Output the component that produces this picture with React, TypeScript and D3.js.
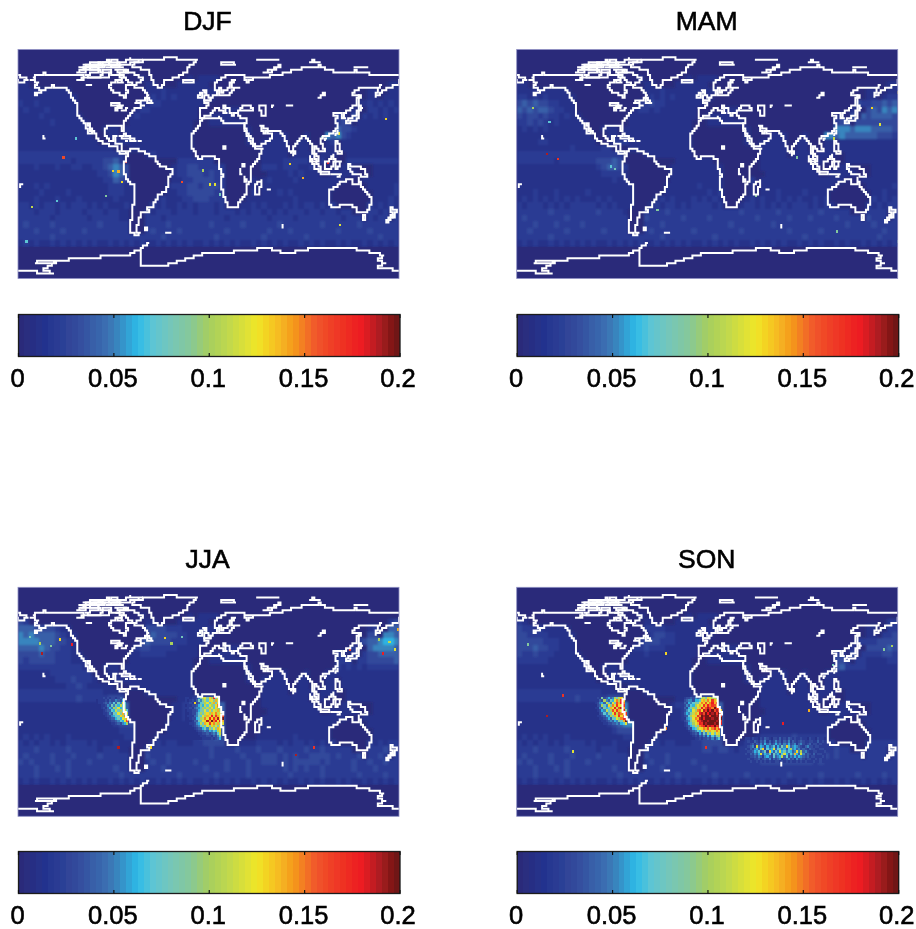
import React from "react";
import * as d3 from "d3";

// ---------- colour scale ----------
const COLOR_STOPS: [number, string][] = [
  [0, "#2b2a78"], [0.015, "#24348f"], [0.03, "#33499b"], [0.045, "#3a6cb0"], [0.05, "#3b7db8"],
  [0.0625, "#2dbbe8"], [0.07, "#5cc5d5"], [0.08, "#76c6b8"], [0.09, "#85c89a"], [0.1, "#a6ce5e"],
  [0.11, "#c0d84d"], [0.125, "#f0e628"], [0.135, "#f6c020"], [0.145, "#f4951f"], [0.155, "#f1592a"],
  [0.17, "#ee3124"], [0.18, "#ed1c24"], [0.19, "#a81e22"], [0.2, "#651010"],
];
const TICKS = [0, 0.05, 0.1, 0.15, 0.2];
const TICK_LABELS = ["0", "0.05", "0.1", "0.15", "0.2"];

// ---------- 5-degree grid: rows start at latitude 70N (row 4), 12 cells per 60 degrees of longitude.
// Digits are hundredths in base 21 (a = 0.10 ... k = 0.20). OCEAN: 1 = sea, 0 = land.
const FIRST_ROW = 4;
const OCEAN = [
  "000000000000 000000000001 000000001011 110000000000 000000000000 000000000000",
  "110000000000 000000000000 110000111111 000000000000 000000000000 000000000011",
  "111111111100 000000000000 111111111111 110000000000 000000000000 000000110011",
  "111111111110 000000000000 011111111110 100000000000 000000000000 000000110111",
  "111111111110 000000000001 111111111110 000000000000 000000000000 000011111111",
  "111111111110 000000000011 111111111100 000111000000 000000000000 000100111111",
  "111111111111 000000000111 111111111100 111110000000 000000000000 110101111111",
  "111111111111 100000000111 111111111000 111111100000 000000000000 111011111111",
  "111111111111 100011101111 111111111000 000000010000 000000000000 111111111111",
  "111111111111 110001101111 111111111000 000000010000 111000100011 111111111111",
  "111111111111 111000111111 111111111000 000000010011 111001100011 011111111111",
  "111111111111 111111000111 111111111000 000000000011 111001100011 011111111111",
  "111111111111 111111110000 111111111000 000000000011 111011110111 001111111111",
  "111111111111 111111110000 000000111111 100000000011 111111100100 001111111111",
  "111111111111 111111111000 000001111111 111000000011 111111110000 011000011111",
  "111111111111 111111111000 000001111111 111000000001 111111111001 111100011111",
  "111111111111 111111111000 000001111111 111000001011 111111111111 110001111111",
  "111111111111 111111111100 000011111111 111000001011 111111111111 000000111111",
  "111111111111 111111111100 000011111111 111000001011 111111111110 000000011111",
  "111111111111 111111111100 001111111111 111000011111 111111111110 000000011111",
  "111111111111 111111111100 011111111111 111000111111 111111111111 000000111111",
  "111111111111 111111111000 111111111111 111111111111 111111111111 111000111101",
  "111111111111 111111111000 111111111111 111111111111 111111111111 111110111101",
  "111111111111 111111111000 111111111111 111111111111 111111111111 111111111111",
  "111111111111 111111111000 111111111111 111111111111 111111111111 111111111111",
  "111111111111 111111111111 111111111111 111111111111 111111111111 111111111111",
  "111111111111 111111111111 111111111111 111111111111 111111111111 111111111111",
];

const DJF_ROWS = [
  "111111111111 111111111111 111111111111 111111111111 111111111111 111111111111",
  "111111111111 111111111111 111111111111 111111111111 111111111111 111111111111",
  "111111111111 111111111111 111211111111 111111111111 111111111111 111111111111",
  "111111111111 111111111111 221212111111 111111111111 111111111111 111111111111",
  "211211111111 111111111112 122111111111 111111111111 111111111111 111111212121",
  "121112111111 111111111112 211111111111 111111111111 111111111111 111122221212",
  "111121111111 111111111121 111111111111 111111111111 111111111111 222322121211",
  "111111211111 111111111111 111111111111 111111111111 111111111112 232211111111",
  "111111111111 111111111111 111111111111 111111111111 111111111334 433211111111",
  "111111111111 111111111111 111111111111 111111111111 111111111354 532111111111",
  "111111111111 111111111111 111111111111 111111111111 111111111112 211111111111",
  "111111111111 111111111111 111111111111 111111111111 111111111111 111111111111",
  "222222222222 222222222222 121111111111 111111111111 111111111111 111111111111",
  "222222222212 222233422222 222222222222 222222111111 112222222222 222222222222",
  "111211121122 112234543222 112211223322 222222222222 212221121211 111111211111",
  "111111111111 111223543212 111111223332 322111111111 111212111111 111111211111",
  "111111111111 111122432111 111111122333 322111111112 111121111111 111111111111",
  "111212111111 111112221112 111112223323 332111121111 111111111111 111121111112",
  "111121111211 111112221112 111111223333 322111112111 121211111111 111111111112",
  "111211121112 111111211111 111211122333 222112111111 111121111111 111111111121",
  "221212212122 212121112111 221211212122 212112112121 112121221212 212121212121",
  "222122212222 122212211122 212221222122 212221212212 121222122122 122212221222",
  "222222122222 212222211122 222122222222 222122222221 222212222222 212222212222",
  "232222322222 222322222122 222232222222 322222322222 232222222322 222232222222",
  "222322223222 322222222222 232222322222 222322222223 222322222222 322222322222",
  "222222322222 222222222222 222322222222 232222222232 222222322222 222222223222",
  "121211212121 212112121212 112121212112 121212112121 212112121211 212112121212",
];

const MAM_ROWS = [
  "111111111111 111111111111 111111111111 111111111111 111111111111 111111111111",
  "111111111111 111111111111 111111111111 111111111111 111111111111 111111111111",
  "111111111111 111111111111 111211111111 111111111111 111111111111 111111111111",
  "221212111111 111111111112 221212111111 111111111111 111111111111 111111111122",
  "343433221111 111111111122 232211111111 111111111111 111111111111 111132233434",
  "434344322111 111111111112 212111111111 111111111111 111111111111 111123343545",
  "323323221211 111111111111 111111111111 111111111111 111111111111 112334344443",
  "223232121111 111111111111 111111111111 111111111111 111111111112 233333333333",
  "121212111111 111111111111 111111111111 111111111111 111111111334 555455544443",
  "111111111111 111111111111 111111111111 111111111111 111111111355 454444443332",
  "111122111111 111111222111 111111111111 111111111111 111111111111 111111111111",
  "111111111121 111122321111 111111111111 111111111111 111111111111 111111111111",
  "222222222222 222222221111 111111111111 111111111111 111111111111 111111111111",
  "222222212222 222333432222 111111111111 111111111111 111111121111 111111111111",
  "111111111111 111234432222 111111111111 111111111111 111111111111 111111111111",
  "111111111111 111122221211 111111111111 111111111111 111111111111 111111111111",
  "111111111111 111111211111 111111111111 111111112111 111111111111 111111111111",
  "111111111111 111111111111 111111111121 111111111111 111111111111 111111111112",
  "111211121111 121111111111 111211111111 212111111111 121111211111 111211111211",
  "121212121212 111212111112 121212111212 121121212121 121212112121 212112121212",
  "212221212122 222121211112 212122121222 212212122121 212122212121 221212212122",
  "222222322222 222322221122 222232222222 222222322222 232222222322 222232222222",
  "232222222322 222222222122 322222232222 322222222322 222322232222 322222322222",
  "222322232222 322222222222 222322222222 222232222222 322222222222 223222232222",
  "223222222322 222232222222 232222222322 222222322222 222322222322 222222222322",
  "222222322222 222222222222 222322222222 232222222222 222222322222 222222223222",
  "121211212121 212112121212 112121212112 121212112121 212112121211 212112121212",
];

const JJA_ROWS = [
  "111111111111 111111111111 111111111111 111111111111 111111111111 111111111111",
  "322111111111 111111111111 111111111111 111111111111 111111111111 111111111123",
  "444333321111 111111111111 333322211111 111111111111 111111111111 111111122344",
  "545444432111 111111111111 443333221111 111111111111 111111111111 111111334554",
  "555544433211 111111111133 433332221111 111111111111 111111111111 111123445665",
  "444454332211 111111111123 322222111111 111111111111 111111111111 111233455554",
  "333343322211 111111111112 222211111111 111111111111 111111111111 111222334444",
  "323333322211 111111111111 111111111111 111111111111 111111111111 222222333334",
  "222222222222 111111111111 111111111111 111111111111 111111111111 212121222222",
  "111111222222 222111111111 111111111111 111111111111 111111111111 111111111111",
  "111111122232 221111111111 111111111111 111111111111 111111111111 111111111111",
  "111111111223 211111111111 111111111111 111111111111 111111111111 111111111111",
  "222222222222 222211111111 111111111223 211111111111 111111111111 111111111111",
  "222222222223 222223333322 111111111223 300000000111 111111111111 111111111111",
  "111111111111 111223344322 111111122334 444000000111 111111111111 111111111111",
  "111111111111 111122344322 111111122334 444400000111 111111111111 111111111111",
  "111111111111 111112344322 111111122334 444400000111 111111111111 111111111111",
  "111111111111 111111233322 111111112334 444400000111 111111111111 111111111111",
  "111111111111 111111122211 111111112333 444400000111 111111111111 111111111111",
  "121212111211 111111112221 111111111233 343430000111 111121111111 121212111111",
  "212122121222 212111211111 212122111223 333232111222 212122121212 212121212122",
  "222322222322 222122211122 222222222222 322223222322 232222322322 222322222322",
  "232222322232 222322222122 322232222222 322222322233 323232233332 322232223232",
  "323222322322 232222222222 232232222322 222322232233 323233333232 222322322322",
  "222322232322 222222322222 222322222223 222322232222 223232322322 222322232222",
  "222322222322 222222232222 222222322222 232222232222 222322222322 222232222322",
  "121211212121 212112121212 112121212112 121212112121 212112121211 212112121212",
];

const SON_ROWS = [
  "111111111111 111111111111 111111111111 111111111111 111111111111 111111111111",
  "211111111111 111111111111 111111111111 111111111111 111111111111 111111111122",
  "322121111111 111111111111 222211111111 111111111111 111111111111 111111111122",
  "332222111111 111111111111 323322111111 111111111111 111111111111 111111111223",
  "333332221111 111111111122 333222111111 111111111111 111111111111 111122223333",
  "333433221111 111111111122 322211111111 111111111111 111111111111 111122333343",
  "322322211111 111111111111 211111111111 111111111111 111111111111 222322222332",
  "222222111111 111111111111 111111111111 111111111111 111111111112 332322111122",
  "111111111111 111111111111 111111111111 111111111111 111111111123 342222111111",
  "111111111111 111111111111 111111111111 111111111111 111111111111 111111111111",
  "111111111111 111111111111 111111111111 111111111111 111111111111 111111111111",
  "111111111111 111111111111 111111111111 111111111111 111111111111 111111111111",
  "222222222222 222211111111 111111111223 211111111111 111111111111 111111111111",
  "222222222223 222223333322 111111111223 300000000111 111111111111 111111111111",
  "111111111111 111223445332 111111222334 444000000111 111111111111 111111111111",
  "111111111111 111223445432 111111122334 444400000111 111111111111 111111111111",
  "111111111111 111123445432 111111122334 444400000111 111111111111 111111111111",
  "111111111111 111112345532 111111112334 444400000111 111111111111 111111111111",
  "111111111111 111111233332 111111112333 444400000111 111111111111 111111111111",
  "121212111211 111111112221 111111111233 343430000122 222232222222 121212111111",
  "212122121222 212111211111 212122111223 333232122222 333333332222 222222222222",
  "222322222322 222122211122 222222222223 323321222333 333333333322 322222222222",
  "232222322232 222322222122 322232222222 222222222333 333333333332 322222222222",
  "323222322322 232222222222 232232222322 222222222233 333333332322 222222222222",
  "222322232322 222222322222 222322222223 222222222222 222222222222 222222222222",
  "222322222322 222222232222 222222322222 232222232222 222322222322 222232222322",
  "121211212121 212112121212 112121212112 121212112121 212112121211 212112121212",
];

const JJA_AFRICA = [
  "22122358bc9dah8c..", "212324859b7dc9eb..", "2232d3478ac7be8d..", "122334696b7ca8cf..",
  "22324557a8b9c7da9.", "122334689c8d9cbea.", "1123357a8bdaecfbd8", "12224587caedibhecg",
  "1123367abfcidhejdk", "11124489cdjekfiche", "1122356b8echdfbeac", "11123457a7c9dac8d.",
  "11112344685a8c9ec.", "111112334546576ad.", "1111112233434547b.", "11111112223324359.",
  "11111111222232346.",
];
const SON_AFRICA = [
  "23343545ab9dcab9..", "34553668debfchec..", "4365798cfdgcfieg..", "35476acecheifhge..",
  "4368a8dbiegjhfkhf.", "3576cafgdjhkikgjgd", "4659becijgkikjkhkg", "347adbhfkjkkhkkjkh",
  "2568cfejkikkkjkkjk", "3459bdghjkkjkkkjkh", "2367aceihkjkkkjkki", "23468b9fgikhjikhj.",
  "124367acdfegcfheg.", "11234576b8daecbfd.", "11123436485a7c8db.", "1111232435364759a.",
  "11111223233435357.",
];
const JJA_PERU = [
  "2223232332343..", "12223243354364.", "122343547485d7.", "11223548596b78.",
  "11232465a7c698.", "111234476b8a7c7", "1112235487c9e8b", "11112335687daf8",
  "111112344686cbe", "1111112334576cg", "11111112234356a",
];
const SON_PERU = [
  "232934645a8bd..", "2243a5486cfahd.", "23564b75c8geif.", "134a75d9fchdch.",
  "2254968ecibgje.", "12365b7agdheci9", "11347598chbgfdh", "1223465a8echdie",
  "1122346487cafhi", "1112234546598ek", "11112233445467c",
];
const SON_INDIAN = [
  "22132213243213324232432322322132213221",
  "23224324352423534243524323432233224232",
  "22342435364534645354634524532342332322",
  "23452c4653645736485d745654324533233222",
  "32435648d3756c4785647a5645343243322332",
  "23346574583d6475c6857645d5a45322332223",
  "3243546c4657385647c6475e64c53432423322",
  "22334354256437456b47354646543423322232",
  "23223342343524345234534253432332232322",
  "22322323232322332323232232323222322322",
];

// individually read bright cells: lon, lat, value
const DJF_PEAKS: number[][] = [[-138,6,.16],[-79,3,.17],[-91,-4.5,.13],[-86,-5,.14],[-83,-13,.13],[-26,-13,.16],[-6,-4,.1],[0.6,-15,.12],[5,-15,.12],[10,-23,.08],[167,36.5,.13],[122,25,.12],[106,22,.08],[76,1,.13],[88,-10,.14],[112,2,.18],[-168,-33,.11],[123,-47,.12],[-173,-60,.07],[-126,21,.07],[-98,-24,.09],[-144,-28,.07]];
const MAM_PEAKS: number[][] = [[-152,9,.19],[-142,5,.17],[155,45,.13],[179,57,.13],[119,21,.11],[-166,45,.1],[84,6,.09],[11,-19,.09],[45,-24,.09],[122,-52,.09],[179,-60,.09],[162,32,.12],[-88,-3,.08],[-92,-1,.07],[-48,-35,.09],[-150,34,.07]];
const JJA_PEAKS: number[][] = [[-158,39,.19],[-130,46,.18],[-141,50,.13],[-86,-35,.19],[99,-35,.17],[82,-41,.19],[-55,-35,.13],[133,42,.16],[164,39,.18],[178,58,.14],[-42,51,.13],[-160,47,.1],[-150,45,.09],[-170,52,.08],[170,48,.11],[175,42,.12],[160,50,.1],[-36,47,.1],[-26,52,.08]];
const SON_PEAKS: number[][] = [[-137,6,.17],[-152,-10,.19],[-40,39,.13],[71,-16,.18],[95,-6,.14],[-40,-20,.15],[-2,-35,.17],[-128,-38,.12],[-170,46,.09],[174,45,.1],[166,42,.09],[118,30,.08]];

// ---------- coastlines, [lon, lat] ----------
const COASTS: number[][][] = [
  // North + Central + South America
  [[-168,66],[-164,67],[-166,68.5],[-162,70],[-156,71],[-148,70],[-140,69.5],[-134,69],[-128,70],[-120,69],[-115,68],[-108,68],[-100,68],[-95,68],[-94,72],[-90,69],[-85,69],[-82,69],[-81,67],[-87,65],[-94,62],[-94,59],[-92,57],[-85,55],[-82,53],[-80,51],[-79,54],[-77,57],[-78,60],[-78,62],[-72,61.5],[-70,59],[-65,59],[-64,60],[-61,56],[-57,53],[-60,50],[-66,50],[-70,47],[-65,49],[-64,46],[-61,46],[-66,44],[-70,43],[-71,41],[-74,40],[-76,37],[-76,35],[-81,31],[-80,26],[-81,25],[-83,29],[-85,30],[-90,29],[-94,29.5],[-97,27],[-98,22],[-96,19],[-92,18.5],[-90,21],[-87,21],[-88,16],[-83,15],[-83,10],[-80,9],[-77,8.5],[-75,11],[-72,12],[-68,11],[-62,10.5],[-58,7],[-52,5],[-50,1],[-44,-2.5],[-38,-4],[-35,-6],[-35,-9],[-39,-14],[-39,-18],[-41,-22],[-48,-25],[-49,-29],[-53,-34],[-58,-35],[-57,-38],[-62,-39],[-65,-42],[-66,-46],[-69,-51],[-68,-54],[-65,-55],[-69,-55.5],[-74,-52],[-75,-47],[-73,-42],[-73,-37],[-71,-30],[-70,-20],[-71,-17],[-76,-14],[-79,-8],[-81,-5],[-80,-2],[-80,1],[-78,3],[-77,7],[-80,8],[-83,8.5],[-85,10],[-87,13],[-92,14.5],[-95,16],[-100,17],[-105,20],[-106,23],[-110,27],[-113,31],[-115,31],[-112,26],[-110,23],[-115,28],[-117,32.5],[-120,34.5],[-122,37],[-124,40],[-124,47],[-128,51],[-131,55],[-135,59],[-140,60],[-147,61],[-152,59],[-158,56],[-164,54.5],[-158,58],[-162,60],[-165,62],[-161,64],[-168,66]],
  // Africa
  [[-6,36],[-1,35.5],[10,37],[11,33.5],[20,32],[25,32],[32,31],[34,28],[37,21],[39,15],[43,11.5],[51,12],[47,4],[40,-3],[39,-8],[40,-15],[35,-20],[35,-24],[32,-28],[27,-34],[19,-34.5],[15,-27],[12,-17],[13,-8],[9,-1],[9,4],[5,5],[-4,5],[-8,4.5],[-13,9],[-17,15],[-17,21],[-13,27],[-10,30],[-6,36]],
  // Eurasia
  [[-9,43],[-9,37],[-6,36.5],[-1,38],[3,42],[7,44],[12,42],[16,39],[18,40],[14,45],[19,42],[22,37],[24,40],[27,41],[28,37],[36,36.5],[35,32],[34.5,28],[39,21],[43,14],[45,13],[52,16],[58,20],[60,23],[56,25],[52,24.5],[50,29],[48,30],[52,28],[57,26],[62,25],[67,25],[72,21],[73,16],[77,8],[80,13],[81,16],[87,21],[91,22],[94,17],[97,16],[98,10],[100,4],[104,1.5],[103,5],[100,10],[100,13],[105,9],[109,12],[106,19],[108,21],[113,22],[120,26],[122,31],[119,35],[122,37],[118,39],[122,40],[125,38],[126,35],[129,36],[128,40],[133,43],[140,48],[141,53],[135,55],[142,59],[155,59],[163,62],[157,52],[162,56],[170,60],[179,63],[180,65]],
  [[180,69],[170,70],[160,70],[140,73],[130,71],[113,74],[105,77],[90,75],[80,73],[72,72],[68,69],[60,69],[54,68],[44,68],[40,65],[37,64],[33,67],[41,67],[30,70],[20,70],[14,67],[5,62],[6,58],[10,59],[12,56],[18,60],[22,65],[25,65],[21,61],[24,60],[30,60],[22,58],[21,55],[12,54],[9,57],[8,54],[3,51],[-2,49],[-4,48],[-1,46],[-2,43.5],[-9,43]],
  [[-180,69],[-170,66],[-175,64.5],[-180,65]],
  // Australia, Greenland
  [[114,-22],[113,-26],[115,-34],[118,-35],[124,-33],[131,-31.5],[135,-34],[138,-35],[140,-38],[146,-39],[150,-37],[153,-31],[153,-26],[149,-22],[146,-19],[143,-14],[142,-11],[141,-16],[136,-15],[136,-12],[131,-12],[129,-15],[125,-14],[122,-18],[114,-22]],
  [[-73,78],[-60,82],[-35,83.5],[-20,82],[-11,81],[-18,76],[-22,71],[-30,68],[-40,65],[-44,60],[-50,62],[-54,68],[-56,73],[-68,76],[-73,78]],
  // Canadian Arctic
  [[-80,73],[-72,71],[-62,66],[-68,62.5],[-75,64],[-78,68],[-88,70],[-80,73]],
  [[-117,70],[-105,73],[-101,69],[-110,68],[-117,70]],
  [[-125,72],[-118,75],[-116,72],[-125,72]],
  [[-90,77],[-75,83],[-62,82],[-75,78],[-90,77]],
  [[-92,75],[-80,75],[-82,76.5],[-92,76],[-92,75]],
  [[-116,75.5],[-106,75],[-106,77],[-116,76.5],[-116,75.5]],
  [[-95,80],[-88,82],[-86,78],[-95,78],[-95,80]],
  [[-122,76],[-112,78],[-104,79],[-100,76],[-110,77],[-122,76]],
  [[-100,74],[-92,74],[-94,71],[-101,72],[-100,74]],
  [[-104,78],[-96,81],[-92,79],[-99,77],[-104,78]],
  [[-112,74],[-100,75.5],[-98,77],[-108,77],[-112,74]],
  [[-120,73],[-110,74],[-104,75],[-114,76],[-120,73]],
  [[-118,78],[-108,80],[-100,79],[-90,80],[-84,79],[-92,77],[-104,77],[-118,78]],
  [[-96,76],[-88,78],[-82,78],[-86,75],[-96,76]],
  [[-88,73],[-80,72],[-76,73],[-84,74],[-88,73]],
  [[-87,64],[-81,64],[-84,66],[-87,64]],
  [[-59,48],[-53,47],[-56,51.5],[-59,48]],
  [[-125,66],[-118,67],[-120,65],[-125,66]],
  [[-115,62],[-110,62.5],[-116,61],[-115,62]],
  // Great Lakes
  [[-92,47],[-85,48],[-85,46.5],[-90,46.5],[-92,47]],
  [[-88,44],[-86,46],[-85,44],[-87,42],[-88,44]],
  [[-84,46],[-80,45],[-82,43],[-84,45],[-84,46]],
  [[-83,42],[-79,43],[-76,44],[-79,42.5],[-83,42]],
  // Caribbean & Atlantic islands
  [[-85,22],[-80,23],[-74,20],[-78,20],[-85,22]],
  [[-74,19.5],[-68,18.5],[-72,18],[-74,19.5]],
  [[-78,18.5],[-76,18],[-78,17.8],[-78,18.5]],
  [[-67,18.5],[-65,18.3]],
  [[-5,50],[1,51],[-2,56],[-3,58.5],[-6,57],[-3,54],[-5,52],[-5,50]],
  [[-10,52],[-6,52],[-6,55],[-10,54],[-10,52]],
  [[-24,65],[-14,66],[-14,64.5],[-22,63.5],[-24,65]],
  [[11,79],[20,80.5],[25,78],[16,77],[11,79]],
  [[52,71],[58,74],[68,77],[58,71],[52,71]],
  [[45,81],[65,81]],
  [[95,79],[105,79],[100,81],[95,79]],
  [[138,75],[150,75]],
  // inland seas & lakes
  [[28,42],[31,46],[37,46],[41,42],[35,42],[28,42]],
  [[47,45],[53,46],[53,40],[54,37],[50,37],[49,41],[47,45]],
  [[59,46],[61,46],[60,44],[59,46]],
  [[74,46],[79,46.5],[75,45.5],[74,46]],
  [[104,52],[109,55],[108,53],[104,52]],
  [[33,0],[34,-3],[31,-3],[31,0],[33,0]],
  [[29,-4],[30,-8],[31,-8],[30,-4],[29,-4]],
  [[34,-10],[35,-14],[34,-14],[34,-10]],
  [[13,13.5],[15,13.5],[15,12],[13,12],[13,13.5]],
  // Indian Ocean, SE Asia, Pacific
  [[44,-16],[49,-12],[50,-16],[47,-25],[44,-25],[44,-16]],
  [[55,-20.5],[58,-20.5]],
  [[80,9],[82,7],[80,6],[80,9]],
  [[95,5.5],[104,-2],[106,-6],[102,-4],[95,5.5]],
  [[105,-6],[114,-7],[114,-8.5],[106,-7.5],[105,-6]],
  [[109,1],[117,7],[119,1],[116,-4],[110,-3],[109,1]],
  [[120,1],[125,1],[122,-5],[120,-5],[120,1]],
  [[131,-1],[141,-3],[147,-6],[150,-10],[143,-9],[138,-8],[133,-4],[131,-1]],
  [[120,18],[122,18],[124,12],[126,7],[122,7],[120,14],[120,18]],
  [[121,25],[122,23],[120,22],[121,25]],
  [[109,20],[111,19],[109,18],[109,20]],
  [[116,-8.5],[125,-8.5],[122,-10]],
  [[130,31],[135,34],[140,35],[142,40],[141,45],[145,44],[141,41.5],[139,38],[133,35.5],[130,33],[130,31]],
  [[142,46],[143,54],[142,54],[142,46]],
  [[172,-34.5],[178,-38],[175,-41.5],[174,-39],[172,-34.5]],
  [[172,-40.5],[174,-42],[170,-46],[167,-46],[172,-40.5]],
  [[145,-41],[148,-41],[147,-43.5],[145,-41]],
  [[-61,-51],[-58,-51],[-58,-52.5],[-61,-52.5],[-61,-51]],
  [[-156,20],[-155,19],[-157,21]],
  [[69,-49],[70,-50]],
  [[-40,-54],[-37,-55]],
  [[-177,-17],[-178,-18]],
  // Antarctica
  [[-180,-84],[-163,-85],[-146,-85.8],[-156,-82.4],[-145,-77],[-165,-78],[-160,-76],[-145,-77],[-124,-73.8],[-102,-73],[-75,-72],[-68.5,-68],[-56,-62],[-65,-69],[-65,-74.5],[-64,-80],[-39,-79],[-23,-74.5],[-7,-70.6],[24,-69],[55,-66],[71,-70.6],[99,-66],[137,-66.7],[165,-72],[160,-76],[168,-78.5],[159,-81],[180,-84]],
];

const W = 916, H = 929;
const AFRICA_ORIGIN = [-22, 4], PERU_ORIGIN = [-106, 4], INDIAN_ORIGIN = [36, -28];
const PANELS = [
  { title: "DJF", rows: DJF_ROWS, peaks: DJF_PEAKS, patches: [] as { o: number[]; r: string[] }[], x0: 18, y0: 49.5, cy: 356.5, tx: 207.5, ty: 30 },
  { title: "MAM", rows: MAM_ROWS, peaks: MAM_PEAKS, patches: [] as { o: number[]; r: string[] }[], x0: 516.7, y0: 49.5, cy: 356.5, tx: 706.7, ty: 30 },
  { title: "JJA", rows: JJA_ROWS, peaks: JJA_PEAKS, patches: [{ o: AFRICA_ORIGIN, r: JJA_AFRICA }, { o: PERU_ORIGIN, r: JJA_PERU }], x0: 18, y0: 587.3, cy: 893.5, tx: 207.5, ty: 568 },
  { title: "SON", rows: SON_ROWS, peaks: SON_PEAKS, patches: [{ o: AFRICA_ORIGIN, r: SON_AFRICA }, { o: PERU_ORIGIN, r: SON_PERU }, { o: INDIAN_ORIGIN, r: SON_INDIAN }], x0: 516.7, y0: 587.3, cy: 893.5, tx: 706.7, ty: 568 },
];
const MAP_W = 381, MAP_H = 229, BAR_H = 42, BAR_W = 381.5;
const GRID = 2;

const base = d3.scaleLinear<string>().domain(COLOR_STOPS.map(d => d[0])).range(COLOR_STOPS.map(d => d[1])).clamp(true);
const N_STEPS = 64;
const stepOf = (v: number) => Math.min(N_STEPS - 1, Math.floor((v / 0.2) * N_STEPS));
const color = (v: number) => base(((stepOf(v) + 0.5) / N_STEPS) * 0.2);
const parseRow = (s: string) => s.replace(/\s+/g, "");

// Coastlines in the source follow the 2-degree grid, so they are snapped to it and drawn as stairs.
function snap(c: number[][]) {
  const out: number[][] = [];
  for (let i = 0; i < c.length - 1; i++) {
    const [a, b] = [c[i], c[i + 1]];
    const n = Math.max(1, Math.ceil(Math.max(Math.abs(b[0] - a[0]), Math.abs(b[1] - a[1])) / GRID));
    for (let k = 0; k <= n; k++) {
      const p = [Math.round((a[0] + ((b[0] - a[0]) * k) / n) / GRID) * GRID, Math.round((a[1] + ((b[1] - a[1]) * k) / n) / GRID) * GRID];
      const l = out[out.length - 1];
      if (!l || l[0] !== p[0] || l[1] !== p[1]) out.push(p);
    }
  }
  return out;
}

function Panel({ p, idx }: { p: (typeof PANELS)[number]; idx: number }) {
  const x = d3.scaleLinear().domain([-180, 180]).range([p.x0, p.x0 + MAP_W]);
  const y = d3.scaleLinear().domain([90, -90]).range([p.y0, p.y0 + MAP_H]);
  const line = d3.line<number[]>().x(d => x(d[0])).y(d => y(d[1])).curve(d3.curveStepAfter);
  const cells: React.ReactNode[] = [];
  p.rows.forEach((row, r) => {
    const vals = parseRow(row);
    const mask = parseRow(OCEAN[r]);
    const rowIdx = r + FIRST_ROW;
    for (let c = 0; c < 72; c++) {
      if (mask[c] !== "1") continue;
      const v = parseInt(vals[c] ?? "0", 21) * 0.01;
      if (!v) continue;
      const lon = -180 + c * 5, lat = 90 - rowIdx * 5;
      cells.push(
        <rect key={`${r}-${c}`} x={x(lon)} y={y(lat)} width={x(lon + 5) - x(lon) + 0.3} height={y(lat - 5) - y(lat) + 0.3} fill={color(v)} />
      );
    }
  });
  const fine: React.ReactNode[] = [];
  p.patches.forEach((patch, pi) => {
    patch.r.forEach((row, r) => {
      row.split("").forEach((ch, c) => {
        if (ch === ".") return;
        const v = parseInt(ch, 21) * 0.01;
        const lon = patch.o[0] + c * GRID, lat = patch.o[1] - r * GRID;
        fine.push(
          <rect key={`${pi}-${r}-${c}`} x={x(lon)} y={y(lat)} width={x(lon + GRID) - x(lon) + 0.2} height={y(lat - GRID) - y(lat) + 0.2} fill={color(v)} />
        );
      });
    });
  });
  const bar = d3.scaleLinear().domain([0, 0.2]).range([p.x0 + 0.5, p.x0 + 0.5 + BAR_W]);
  const barTop = p.cy - BAR_H;
  const steps = d3.range(N_STEPS);
  const clip = `mapclip${idx}`;
  return (
    <g>
      <text x={p.tx} y={p.ty} textAnchor="middle" fontSize={26.5} fontFamily="Liberation Sans" stroke="#000" strokeWidth={0.6}>{p.title}</text>
      <clipPath id={clip}><rect x={p.x0} y={p.y0} width={MAP_W} height={MAP_H} /></clipPath>
      <rect x={p.x0} y={p.y0} width={MAP_W} height={MAP_H} fill={color(0)} />
      <g clipPath={`url(#${clip})`}>
        <g filter="url(#soft)" shapeRendering="crispEdges">{cells}</g>
        <g shapeRendering="crispEdges">{fine}</g>
        <g shapeRendering="crispEdges">
          {p.peaks.map((d, i) => (
            <rect key={i} x={x(d[0])} y={y(d[1])} width={2.1} height={2.5} fill={color(d[2])} />
          ))}
        </g>
        {COASTS.map((c, i) => (
          <path key={i} d={line(snap(c)) ?? ""} fill="none" stroke="#fff" strokeWidth={2} strokeLinecap="square" />
        ))}
      </g>
      <rect x={p.x0} y={p.y0} width={MAP_W} height={MAP_H} fill="none" stroke="#8f90c4" strokeWidth={0.8} />
      <g shapeRendering="crispEdges">
        {steps.map(i => (
          <rect key={i} x={bar((i / N_STEPS) * 0.2)} y={barTop} width={BAR_W / N_STEPS + 0.4} height={BAR_H} fill={color(((i + 0.5) / N_STEPS) * 0.2)} />
        ))}
      </g>
      <rect x={bar(0)} y={barTop} width={BAR_W} height={BAR_H} fill="none" stroke="#1a1a1a" strokeWidth={1.3} />
      {TICKS.map((t, i) => (
        <g key={t}>
          <line x1={bar(t)} x2={bar(t)} y1={barTop} y2={barTop + 3.5} stroke="#111" strokeWidth={1.2} />
          <line x1={bar(t)} x2={bar(t)} y1={p.cy} y2={p.cy - 3.5} stroke="#111" strokeWidth={1.2} />
          <text x={bar(t) + (i === 0 ? -1 : i === 4 ? -2 : -1)} y={p.cy + 30} textAnchor="middle" fontSize={25.5} fontFamily="Liberation Sans" stroke="#000" strokeWidth={0.6}>{TICK_LABELS[i]}</text>
        </g>
      ))}
    </g>
  );
}

export default function App() {
  return (
    <svg width={W} height={H} viewBox={`0 0 ${W} ${H}`} style={{ position: "absolute", left: 0, top: 0, background: "#fff" }}>
      <defs>
        <filter id="soft" x="0" y="0" width="1" height="1"><feGaussianBlur stdDeviation="1.0" /></filter>
        <filter id="all" x="0" y="0" width="1" height="1" filterUnits="objectBoundingBox"><feGaussianBlur stdDeviation="0.45" /></filter>
      </defs>
      <g filter="url(#all)">
        <rect width={W} height={H} fill="#fff" />
        {PANELS.map((p, i) => <Panel key={p.title} p={p} idx={i} />)}
      </g>
    </svg>
  );
}
